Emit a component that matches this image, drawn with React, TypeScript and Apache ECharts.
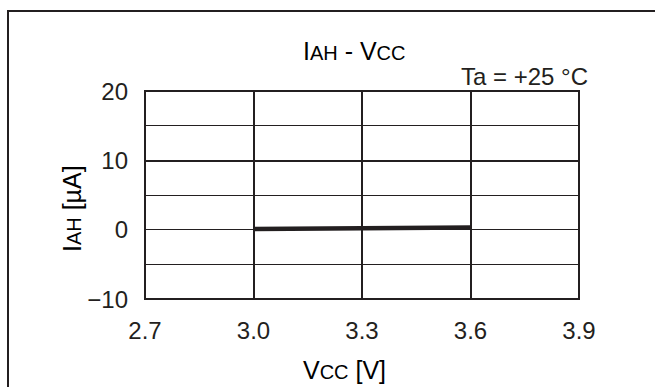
import React, { useEffect, useRef } from "react";
import * as echarts from "echarts";

const vcc = [3.0, 3.3, 3.6];
const iah = [0.1, 0.2, 0.3];
const xTickLabels = ["2.7", "3.0", "3.3", "3.6", "3.9"];
const yTickLabels = ["−10", "0", "10", "20"];

const INK = "#231f20";
const FONT = "'Liberation Sans', Arial, sans-serif";

export default function App() {
  const ref = useRef<HTMLDivElement>(null);
  useEffect(() => {
    if (!ref.current) return;
    const chart = echarts.init(ref.current, null, { renderer: "svg" });
    const big = { fontSize: 25, fontFamily: FONT, color: INK, verticalAlign: "bottom", lineHeight: 25 };
    const small = { fontSize: 20, fontFamily: FONT, color: INK, verticalAlign: "bottom", lineHeight: 25 };
    chart.setOption({
      animation: false,
      backgroundColor: "#ffffff",
      textStyle: { fontFamily: FONT, color: INK },
      grid: {
        left: 145,
        right: 76,
        top: 91,
        bottom: 88,
        show: true,
        borderColor: INK,
        borderWidth: 2,
        backgroundColor: "transparent",
      },
      xAxis: {
        type: "value",
        min: 2.7,
        max: 3.9,
        interval: 0.3,
        axisLine: { show: false },
        axisTick: { show: false },
        splitLine: { show: true, lineStyle: { color: INK, width: 2 } },
        axisLabel: {
          margin: 19,
          fontSize: 24,
          fontFamily: FONT,
          color: INK,
          formatter: (v: number) => {
            const s = v.toFixed(1);
            return xTickLabels.includes(s) ? s : "";
          },
        },
      },
      yAxis: {
        type: "value",
        min: -10,
        max: 20,
        interval: 5,
        axisLine: { show: false },
        axisTick: { show: false },
        splitLine: { show: true, lineStyle: { color: INK, width: 1 } },
        axisLabel: {
          margin: 17,
          fontSize: 24,
          fontFamily: FONT,
          color: INK,
          formatter: (v: number) => {
            const s = v < 0 ? "−" + Math.abs(v) : String(v);
            return yTickLabels.includes(s) ? s : "";
          },
        },
      },
      series: [
        {
          type: "line",
          data: vcc.map((x, i) => [x, iah[i]]),
          symbol: "none",
          lineStyle: { color: INK, width: 4.5 },
          z: 5,
          markLine: {
            silent: true,
            symbol: "none",
            label: { show: false },
            lineStyle: { color: INK, width: 2, type: "solid" },
            data: [{ yAxis: 10 }],
          },
        },
      ],
      graphic: [
        {
          type: "rect",
          shape: { x: 8, y: 11, width: 700, height: 420 },
          style: { fill: "none", stroke: INK, lineWidth: 2 },
          silent: true,
        },
        {
          type: "text",
          x: 303,
          y: 63,
          style: {
            text: "{a|I}{b|AH}{a| - V}{b|CC}",
            rich: { a: big, b: small },
            align: "left",
            verticalAlign: "bottom",
          },
        },
        {
          type: "text",
          x: 588,
          y: 88,
          style: {
            text: "Ta = +25 °C",
            font: `24px ${FONT}`,
            fill: INK,
            align: "right",
            verticalAlign: "bottom",
          },
        },
        {
          type: "text",
          x: 303,
          y: 382,
          style: {
            text: "{a|V}{b|CC}{a| [V]}",
            rich: { a: big, b: small },
            align: "left",
            verticalAlign: "bottom",
          },
        },
        {
          type: "text",
          x: 84,
          y: 252,
          rotation: Math.PI / 2,
          style: {
            text: "{a|I}{b|AH}{a| [µA]}",
            rich: { a: big, b: small },
            align: "left",
            verticalAlign: "bottom",
          },
        },
      ],
    });
    return () => chart.dispose();
  }, []);
  return <div ref={ref} style={{ width: 655, height: 387, position: "absolute", left: 0, top: 0 }} />;
}
